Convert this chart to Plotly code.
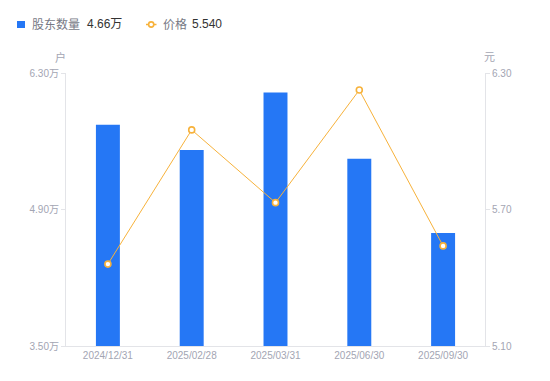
import plotly.graph_objects as go

dates = ["2024/12/31", "2025/02/28", "2025/03/31", "2025/06/30", "2025/09/30"]
holders = [5.77, 5.51, 6.10, 5.42, 4.66]   # 万户
prices = [5.46, 6.05, 5.73, 6.225, 5.54]   # 元

left_ticks = [3.5, 4.9, 6.3]
left_text = ["3.50万", "4.90万", "6.30万"]
right_ticks = [5.1, 5.7, 6.3]
right_text = ["5.10", "5.70", "6.30"]

BLUE = "#2577F5"
ORANGE = "#F7B23B"
TICK = "#A3A5B3"
AXIS = "#E3E4E8"
LEG = "#777985"
DARK = "#333333"
FONT = "Liberation Sans, Arial, Noto Sans CJK SC, sans-serif"

W, H = 542, 373
ML, MR, MT, MB = 58, 65, 65, 35
PW, PH = W - ML - MR, H - MT - MB
OFF = 8  # page body offset


def px(x):  # page pixel x -> paper
    return (x - OFF - ML) / PW


def py(y):  # page pixel y -> paper
    return (H - MB - (y - OFF)) / PH


fig = go.Figure()
fig.add_trace(go.Bar(
    x=dates, y=holders, name="股东数量",
    marker=dict(color=BLUE, line=dict(width=0)), width=0.286, yaxis="y"))
fig.add_trace(go.Scatter(
    x=dates, y=prices, name="价格",
    mode="lines+markers", yaxis="y2",
    line=dict(color=ORANGE, width=1),
    marker=dict(symbol="circle", size=6, color="white", line=dict(color=ORANGE, width=1.6))))

LY = 24.5
shapes = [
    dict(type="rect", xref="paper", yref="paper", x0=px(17), x1=px(25), y0=py(28), y1=py(21),
         fillcolor=BLUE, line=dict(width=0)),
    dict(type="line", xref="paper", yref="paper", x0=px(146), x1=px(156.5), y0=py(LY), y1=py(LY),
         line=dict(color=ORANGE, width=1.5)),
    dict(type="circle", xref="paper", yref="paper", xsizemode="pixel", ysizemode="pixel",
         xanchor=px(151.2), yanchor=py(LY), x0=-2.6, x1=2.6, y0=-2.6, y1=2.6,
         fillcolor="white", line=dict(color=ORANGE, width=1.6)),
]

def lab(text, x, color):
    return dict(text=text, x=px(x), y=py(LY), xref="paper", yref="paper", xanchor="left",
                yanchor="middle", showarrow=False, font=dict(family=FONT, size=12, color=color))

annotations = [
    lab("股东数量", 30, LEG), lab("4.66万", 84.5, DARK),
    lab("价格", 161, LEG), lab("5.540", 189.5, DARK),
    dict(text="户", x=px(60.5), xref="paper", xanchor="center", y=py(57), yref="paper",
         yanchor="middle", showarrow=False, font=dict(size=11, color=TICK)),
    dict(text="元", x=px(490), xref="paper", xanchor="center", y=py(57), yref="paper",
         yanchor="middle", showarrow=False, font=dict(size=11, color=TICK)),
]

fig.update_layout(
    width=W, height=H,
    margin=dict(l=ML, r=MR, t=MT, b=MB, autoexpand=False),
    plot_bgcolor="white", paper_bgcolor="white",
    font=dict(family=FONT, size=10, color=TICK),
    showlegend=False,
    xaxis=dict(type="category", showgrid=False, showline=True, linecolor=AXIS, linewidth=1,
               ticks="", tickfont=dict(size=10, color=TICK), automargin=False),
    yaxis=dict(range=[3.5, 6.3], tickvals=left_ticks, ticktext=left_text, showgrid=False,
               showline=True, linecolor=AXIS, ticks="outside", ticklen=4, tickcolor=AXIS,
               tickfont=dict(size=10, color=TICK), zeroline=False, automargin=False),
    yaxis2=dict(range=[5.1, 6.3], tickvals=right_ticks, ticktext=right_text, overlaying="y",
                side="right", showgrid=False, showline=True, linecolor=AXIS, ticks="outside",
                ticklen=4, tickcolor=AXIS, tickfont=dict(size=10, color=TICK), zeroline=False,
                automargin=False),
    shapes=shapes,
    annotations=annotations,
)

fig.write_html("out.html")
